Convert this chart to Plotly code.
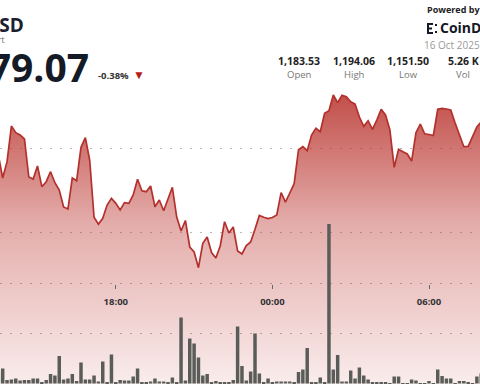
import pandas as pd
import plotly.graph_objects as go

# ---- data (10-minute samples, 2025-10-15 13:30 -> 2025-10-16 08:00) ----
start_time = "2025-10-15 13:30"
price = [
    1178.33, 1172.86, 1176.74, 1185.24, 1183.64, 1183.10, 1182.14, 1173.10, 1172.62, 1175.71,
    1170.79, 1171.98, 1174.36, 1171.74, 1170.00, 1165.95, 1165.48, 1172.86, 1172.21, 1180.17,
    1182.45, 1177.14, 1163.50, 1161.83, 1163.26, 1166.43, 1168.02, 1166.83, 1165.24, 1166.98,
    1166.83, 1168.81, 1172.55, 1169.83, 1169.60, 1170.95, 1166.02, 1167.62, 1165.07, 1168.02,
    1170.64, 1163.57, 1160.24, 1162.74, 1156.43, 1155.24, 1151.50, 1157.31, 1158.81, 1155.12,
    1153.81, 1156.67, 1162.45, 1159.76, 1161.19, 1155.48, 1154.76, 1156.79, 1157.62, 1160.64,
    1163.93, 1163.50, 1163.21, 1163.45, 1164.05, 1169.36, 1167.10, 1169.29, 1171.50, 1179.60,
    1180.31, 1179.36, 1183.10, 1184.69, 1183.88, 1188.26, 1188.88, 1192.62, 1190.79, 1192.55,
    1192.21, 1191.02, 1190.48, 1187.38, 1185.17, 1186.50, 1184.45, 1186.67, 1189.21, 1187.86,
    1184.38, 1175.40, 1179.69, 1179.12, 1178.57, 1176.90, 1183.64, 1185.71, 1183.40, 1183.21,
    1182.98, 1189.21, 1189.45, 1189.29, 1189.05, 1185.95, 1183.21, 1180.31, 1180.40, 1182.62,
    1185.00, 1186.19,
]
volume = [
    22, 30, 7, 8, 10, 6, 7, 7, 10, 10,
    3, 7, 19, 16, 55, 8, 10, 19, 5, 42,
    8, 8, 16, 4, 44, 3, 58, 3, 7, 6,
    6, 14, 30, 3, 3, 4, 10, 4, 4, 2,
    12, 2, 132, 6, 90, 80, 52, 16, 19, 3,
    5, 2, 2, 2, 7, 114, 35, 6, 24, 100,
    20, 3, 10, 3, 4, 4, 4, 4, 2, 23,
    28, 71, 2, 3, 12, 2, 319, 28, 57, 4,
    4, 26, 10, 32, 16, 8, 2, 2, 2, 2,
    1, 14, 14, 1, 1, 8, 6, 1, 1, 5,
    1, 28, 15, 10, 10, 1, 5, 5, 2, 1,
    14, 20,
]
tick_times = ["2025-10-15 18:00", "2025-10-16 00:00", "2025-10-16 06:00"]
tick_labels = ["18:00", "00:00", "06:00"]
x_range = ["2025-10-15 13:33:48", "2025-10-16 07:57:12"]
price_range = [1123.81, 1215.24]
price_grid = [1160, 1180]
vol_range = [-1, 767]
vol_grid = [100, 200]

stats_values = ["1,183.53", "1,194.06", "1,151.50", "5.26 K"]
stats_labels = ["Open", "High", "Low", "Vol"]

times = pd.date_range(start_time, periods=len(price), freq="10min")

W, H = 480, 384
def px(x):
    return x / W
def py(y):
    return 1 - y / H

FONT = "Open Sans"
LINE = "#b3302c"

fig = go.Figure()
fig.add_trace(go.Scatter(
    x=times, y=price, mode="lines",
    line=dict(color=LINE, width=1.7),
    fill="tozeroy",
    fillgradient=dict(
        type="vertical",
        colorscale=[[0, "rgba(190,50,45,0.09)"], [0.55, "rgba(186,50,44,0.40)"], [1, "rgba(184,49,43,0.86)"]],
        start=price_range[0], stop=1193,
    ),
    hoverinfo="skip", yaxis="y",
))
fig.add_trace(go.Bar(
    x=times, y=volume, yaxis="y2",
    marker=dict(color="#595c58", line=dict(width=0)),
    width=10 * 60 * 1000 * 0.8,
    hoverinfo="skip",
))

grid = dict(showgrid=True, gridcolor="#b9b9b9", gridwidth=1.3, griddash="1.5px,8.5px")
fig.update_layout(
    width=W, height=H, margin=dict(l=0, r=0, t=0, b=0),
    paper_bgcolor="white", plot_bgcolor="white",
    showlegend=False,
    xaxis=dict(
        type="date", range=x_range, tickvals=tick_times,
        ticktext=[f"<b>{t}</b>" for t in tick_labels],
        anchor="free", position=py(283.5), showgrid=False, showline=False, zeroline=False,
        ticks="outside", ticklen=4, tickwidth=1, tickcolor="#666", ticklabelstandoff=5,
        tickfont=dict(family=FONT, size=9.5, color="#333"),
    ),
    yaxis=dict(range=price_range, tickvals=price_grid, showticklabels=False,
               zeroline=False, showline=False, **grid),
    yaxis2=dict(range=vol_range, tickvals=vol_grid, showticklabels=False, overlaying="y",
                zeroline=False, showline=False, **grid),
)

ann = []
def text(x, y, s, size, color, anchor="left", bold=False, family=FONT):
    ann.append(dict(x=px(x), y=py(y), xref="paper", yref="paper", text=(f"<b>{s}</b>" if bold else s),
                    showarrow=False, xanchor=anchor, yanchor="middle", borderpad=0,
                    font=dict(family=family, size=size, color=color)))

text(25, 25, "BNB/USD", 19, "#1b2030", anchor="right", bold=True)
text(6, 39.5, "Price Chart", 8.5, "#666", anchor="right")
text(90, 66, "1,179.07", 39, "#141a26", anchor="right", bold=True)
text(97, 75, "-0.38%", 9.5, "#333", bold=True)
text(132, 74.5, "▼", 12, "#b51c1c")
text(426, 10, "Powered by", 9, "#222", bold=True)
text(439, 28, "CoinDesk", 14, "#141a26", bold=True)
text(481, 45, "16 Oct 2025", 10, "#9a9a9a", anchor="right")
centers = [299, 354, 408, 463]
for c, v, l in zip(centers, stats_values, stats_labels):
    text(c, 61, v, 10.5, "#222", anchor="center", bold=True)
    text(c, 74.5, l, 9.5, "#777", anchor="center")
fig.update_layout(annotations=ann)

# small CoinDesk logo mark
shapes = []
for (x0, y0, x1, y1) in [(427, 23, 429, 34), (429, 23, 433, 25), (429, 27.5, 432, 29.5), (429, 32, 433, 34),
                         (435, 24, 437, 26), (435, 31, 437, 33)]:
    shapes.append(dict(type="rect", xref="paper", yref="paper", x0=px(x0), x1=px(x1), y0=py(y0), y1=py(y1),
                       fillcolor="#141a26", line=dict(width=0)))
fig.update_layout(shapes=shapes)

fig.write_html("out.html")
